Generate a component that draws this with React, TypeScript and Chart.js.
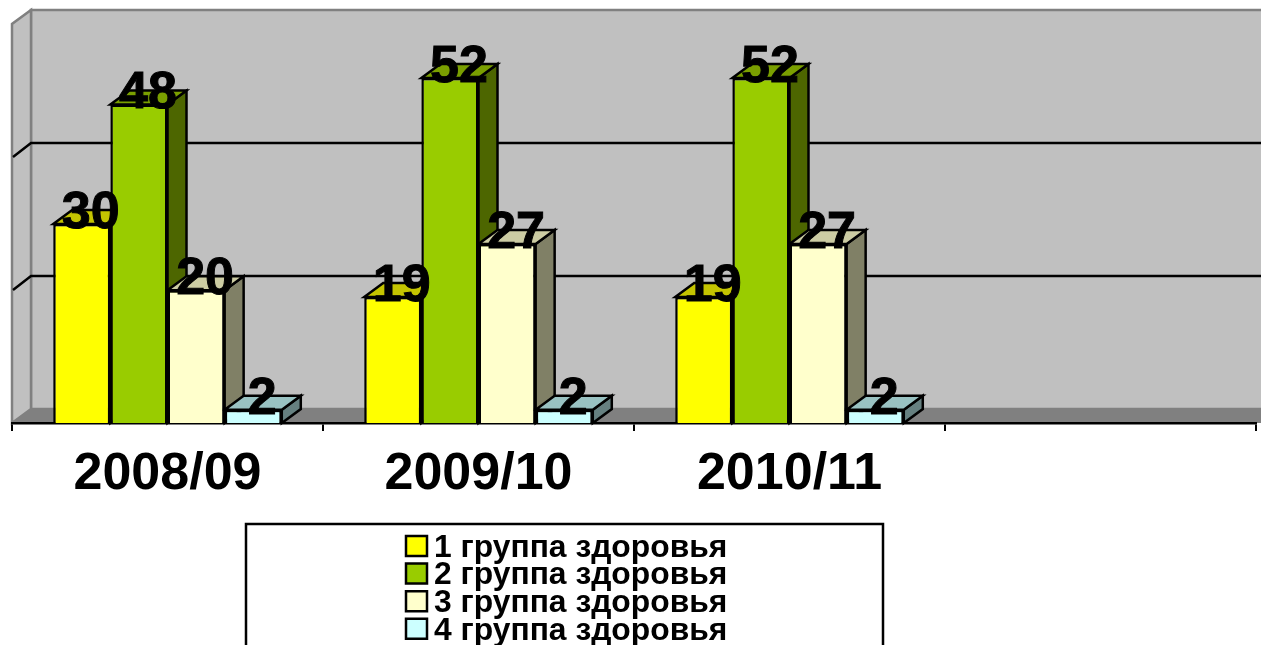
import React, { useEffect, useRef } from "react";
import { Chart, registerables } from "chart.js";

Chart.register(...registerables);

const categories = ["2008/09", "2009/10", "2010/11", ""];
const group1 = [30, 19, 19, null];
const group2 = [48, 52, 52, null];
const group3 = [20, 27, 27, null];
const group4 = [2, 2, 2, null];
const seriesNames = ["1 группа здоровья", "2 группа здоровья", "3 группа здоровья", "4 группа здоровья"];
const seriesValues = [group1, group2, group3, group4];
const frontColors = ["#FFFF00", "#99CC00", "#FFFFCC", "#CCFFFF"];
const topColors = ["#C4C400", "#7A9F00", "#CCCCA3", "#99C2C2"];
const sideColors = ["#808000", "#4D6600", "#808066", "#668080"];

const FONT = '"Liberation Sans", Arial, sans-serif';
const DX = 19;
const DY = -14;
const WALL_H = 399;

const box3d = {
  id: "box3d",
  beforeDraw(chart: any) {
    const { ctx } = chart;
    const x = chart.scales.x;
    const y = chart.scales.y;
    const l = x.left, r = x.right + 40, b = y.bottom, t = b - WALL_H;
    ctx.save();
    // floor
    ctx.fillStyle = "#808080";
    ctx.beginPath();
    ctx.moveTo(l, b);
    ctx.lineTo(l + DX, b + DY);
    ctx.lineTo(r + DX, b + DY);
    ctx.lineTo(r, b);
    ctx.closePath();
    ctx.fill();
    // back wall
    ctx.fillStyle = "#C0C0C0";
    ctx.strokeStyle = "#808080";
    ctx.lineWidth = 2.5;
    ctx.beginPath();
    ctx.rect(l + DX, t + DY, r, b - t);
    ctx.fill();
    ctx.stroke();
    // side wall
    ctx.beginPath();
    ctx.moveTo(l, b);
    ctx.lineTo(l, t);
    ctx.lineTo(l + DX, t + DY);
    ctx.lineTo(l + DX, b + DY);
    ctx.closePath();
    ctx.fill();
    ctx.stroke();
    // grid lines on the walls
    ctx.strokeStyle = "#000000";
    ctx.lineWidth = 2.5;
    for (const tick of y.ticks) {
      if (tick.value === 0 || tick.value === y.max) continue;
      const py = b - (tick.value / y.max) * WALL_H;
      ctx.beginPath();
      ctx.moveTo(l + 1, py);
      ctx.lineTo(l + DX, py + DY);
      ctx.lineTo(r + DX, py + DY);
      ctx.stroke();
    }
    ctx.restore();
  },
  beforeDatasetsDraw(chart: any) {
    const { ctx } = chart;
    ctx.save();
    ctx.strokeStyle = "#000000";
    ctx.lineWidth = 2.5;
    ctx.lineJoin = "miter";
    chart.data.datasets.forEach((_: any, i: number) => {
      chart.getDatasetMeta(i).data.forEach((bar: any, k: number) => {
        if (seriesValues[i][k] == null) return;
        const { x, y, base, width } = bar.getProps(["x", "y", "base", "width"], true);
        const x0 = x - width / 2, x1 = x + width / 2;
        ctx.fillStyle = sideColors[i];
        ctx.beginPath();
        ctx.moveTo(x1, y);
        ctx.lineTo(x1 + DX, y + DY);
        ctx.lineTo(x1 + DX, base + DY);
        ctx.lineTo(x1, base);
        ctx.closePath();
        ctx.fill();
        ctx.stroke();
        ctx.fillStyle = topColors[i];
        ctx.beginPath();
        ctx.moveTo(x0, y);
        ctx.lineTo(x0 + DX, y + DY);
        ctx.lineTo(x1 + DX, y + DY);
        ctx.lineTo(x1, y);
        ctx.closePath();
        ctx.fill();
        ctx.stroke();
      });
    });
    ctx.restore();
  },
  afterDatasetsDraw(chart: any) {
    const { ctx } = chart;
    ctx.save();
    ctx.fillStyle = "#000000";
    ctx.strokeStyle = "#000000";
    ctx.lineWidth = 1;
    ctx.font = `bold 52px ${FONT}`;
    ctx.textAlign = "center";
    ctx.textBaseline = "middle";
    chart.data.datasets.forEach((ds: any, i: number) => {
      chart.getDatasetMeta(i).data.forEach((bar: any, k: number) => {
        const v = ds.data[k];
        if (v == null) return;
        ctx.fillText(String(v), bar.x + 9, bar.y - 10.5);
        ctx.strokeText(String(v), bar.x + 9, bar.y - 10.5);
      });
    });
    ctx.restore();
  },
  afterDraw(chart: any) {
    const { ctx } = chart;
    ctx.save();
    // legend frame, running past the bottom of the picture
    ctx.fillStyle = "#FFFFFF";
    ctx.strokeStyle = "#000000";
    ctx.lineWidth = 2.5;
    ctx.beginPath();
    ctx.rect(246, 524, 637, 140);
    ctx.fill();
    ctx.stroke();
    ctx.font = `bold 31.8px ${FONT}`;
    ctx.textAlign = "left";
    ctx.textBaseline = "middle";
    chart.data.datasets.forEach((ds: any, i: number) => {
      const cy = 547 + i * 27.6;
      ctx.fillStyle = frontColors[i];
      ctx.lineWidth = 2.5;
      ctx.beginPath();
      ctx.rect(406, cy - 11, 21, 20);
      ctx.fill();
      ctx.stroke();
      ctx.fillStyle = "#000000";
      ctx.fillText(ds.label, 434, cy + 1);
    });
    ctx.restore();
  },
};

export default function App() {
  const ref = useRef<HTMLCanvasElement>(null);
  useEffect(() => {
    const chart = new Chart(ref.current as HTMLCanvasElement, {
      type: "bar",
      data: {
        labels: categories,
        datasets: seriesNames.map((name, i) => ({
          label: name,
          data: seriesValues[i],
          backgroundColor: frontColors[i],
          borderColor: "#000000",
          borderWidth: 2.5,
          categoryPercentage: 0.735,
          barPercentage: 1,
        })),
      },
      options: {
        responsive: false,
        animation: false,
        layout: { padding: { left: 12, right: 5, top: 25, bottom: 0 } },
        plugins: { legend: { display: false }, tooltip: { enabled: false } },
        scales: {
          x: {
            offset: true,
            afterFit: (s: any) => {
              s.height = 222;
            },
            grid: { offset: true, drawOnChartArea: false, drawTicks: true, tickLength: 8, color: "#000000", lineWidth: 2 },
            border: { display: true, color: "#000000", width: 2.5 },
            ticks: {
              autoSkip: false,
              maxRotation: 0,
              padding: 12,
              color: "#000000",
              font: { family: FONT, size: 52, weight: "bold" },
            },
          },
          y: {
            display: false,
            min: 0,
            max: 60,
            ticks: { stepSize: 20 },
          },
        },
      },
      plugins: [box3d],
    } as any);
    return () => chart.destroy();
  }, []);
  return (
    <canvas
      ref={ref}
      width={1261}
      height={645}
      style={{ position: "fixed", left: 0, top: 0, width: 1261, height: 645, display: "block" }}
    />
  );
}
